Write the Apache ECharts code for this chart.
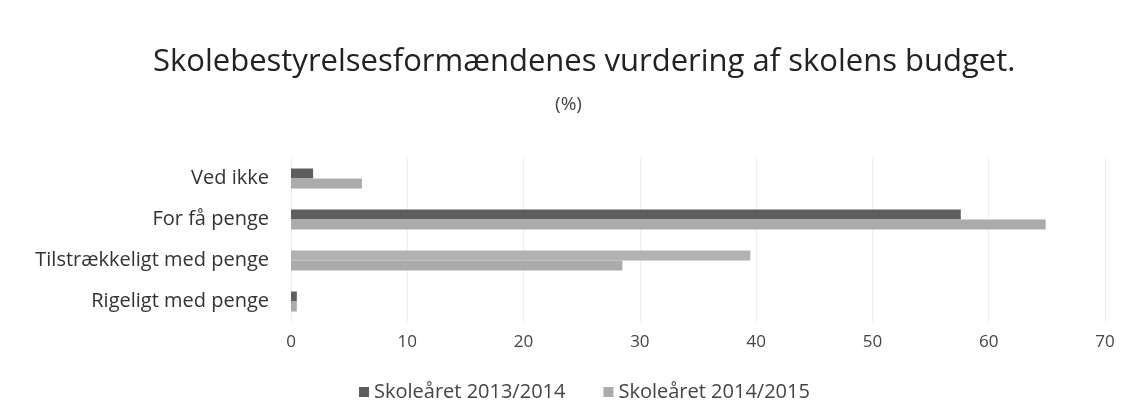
<!DOCTYPE html>
<html>
<head>
<meta charset="utf-8">
<script src="https://cdn.jsdelivr.net/npm/echarts@6/dist/echarts.min.js"></script>
<style>
  html, body { margin: 0; padding: 0; background: #fff; }
  #chart { width: 1137px; height: 407px; }
</style>
</head>
<body>
<div id="chart"></div>
<script>
let categories = ['Ved ikke', 'For få penge', 'Tilstrækkeligt med penge', 'Rigeligt med penge']
let seriesNames = ['Skoleåret 2013/2014', 'Skoleåret 2014/2015']
let values2013 = [1.9, 57.6, 39.5, 0.5]
let values2014 = [6.1, 64.9, 28.5, 0.5]
let xTicks = [0, 10, 20, 30, 40, 50, 60, 70]

let fontFam = '"Open Sans", "Noto Sans", sans-serif'

// the scan prints the first-year bar of the 3rd category in a light tone
let color2013 = ['#5e5e5e', '#5e5e5e', '#b2b2b2', '#5e5e5e']

let dom = document.getElementById('chart')
let myChart = echarts.init(dom)

let option = {
  animation: false,
  backgroundColor: '#fff',
  title: [{
    text: 'Skolebestyrelsesformændenes vurdering af skolens budget.',
    left: 148,
    top: 42,
    textStyle: {
      fontFamily: fontFam,
      fontSize: 31,
      fontWeight: 'normal',
      color: '#222'
    }
  }, {
    text: '(%)',
    left: 'center',
    top: 90,
    textStyle: {
      fontFamily: fontFam,
      fontSize: 19,
      fontWeight: 'normal',
      color: '#444'
    }
  }],
  grid: {
    left: 291,
    right: 32,
    top: 158,
    bottom: 85
  },
  legend: {
    data: seriesNames,
    bottom: 0,
    left: 354,
    itemWidth: 10,
    itemHeight: 10,
    itemGap: 38,
    icon: 'rect',
    textStyle: {
      fontFamily: fontFam,
      fontSize: 20,
      color: '#444'
    }
  },
  xAxis: {
    type: 'value',
    min: xTicks[0],
    max: xTicks[xTicks.length - 1],
    interval: 10,
    axisLine: { show: false },
    axisTick: { show: false },
    splitLine: {
      lineStyle: { color: '#eeeeee' }
    },
    axisLabel: {
      margin: 12,
      fontFamily: fontFam,
      fontSize: 17,
      color: '#444'
    }
  },
  yAxis: {
    type: 'category',
    data: categories,
    inverse: true,
    axisLine: { show: false },
    axisTick: { show: false },
    axisLabel: {
      margin: 22,
      fontFamily: fontFam,
      fontSize: 20,
      color: '#333'
    }
  },
  series: [
    {
      name: seriesNames[0],
      type: 'bar',
      data: values2013.map(function (v, i) {
        return { value: v, itemStyle: { color: color2013[i] } }
      }),
      barWidth: 10,
      barGap: '0%',
      itemStyle: { color: '#5e5e5e' }
    },
    {
      name: seriesNames[1],
      type: 'bar',
      data: values2014,
      barWidth: 10,
      barGap: '0%',
      itemStyle: { color: '#ababab' }
    }
  ]
}

myChart.setOption(option, true)

window.addEventListener('resize', function () {
  myChart.resize()
})
</script>
</body>
</html>
